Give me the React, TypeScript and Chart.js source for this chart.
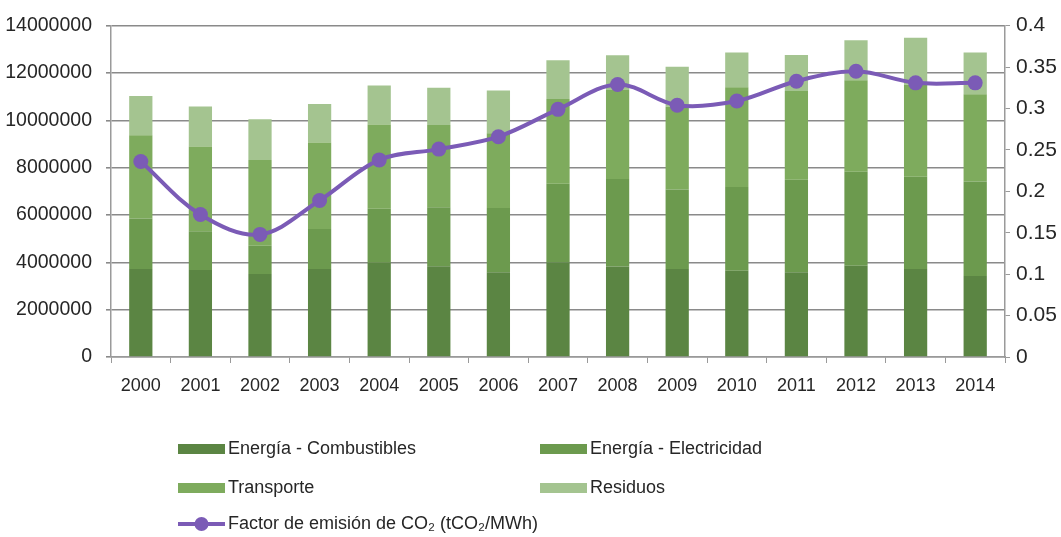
import React, { useEffect, useRef } from "react";
import { Chart, registerables } from "chart.js";

Chart.register(...registerables);

const years = ["2000", "2001", "2002", "2003", "2004", "2005", "2006", "2007", "2008", "2009", "2010", "2011", "2012", "2013", "2014"];
const combustibles = [3720000, 3680000, 3510000, 3720000, 3980000, 3830000, 3580000, 3990000, 3820000, 3720000, 3640000, 3580000, 3860000, 3720000, 3420000];
const electricidad = [2130000, 1630000, 1190000, 1690000, 2280000, 2500000, 2720000, 3330000, 3700000, 3360000, 3540000, 3910000, 3970000, 3900000, 4000000];
const transporte = [3520000, 3580000, 3630000, 3650000, 3570000, 3470000, 3150000, 3580000, 3780000, 3500000, 4220000, 3750000, 3870000, 3880000, 3680000];
const residuos = [1660000, 1700000, 1720000, 1630000, 1640000, 1580000, 1810000, 1640000, 1450000, 1690000, 1470000, 1520000, 1690000, 1990000, 1770000];
const factorEmision = [0.236, 0.172, 0.148, 0.189, 0.238, 0.251, 0.266, 0.299, 0.329, 0.304, 0.309, 0.333, 0.345, 0.331, 0.331];

const seriesLabels = ["Energía - Combustibles", "Energía - Electricidad", "Transporte", "Residuos", "Factor de emisión de CO₂ (tCO₂/MWh)"];
const seriesColors = ["#5b8543", "#6c9a4e", "#7eab5d", "#a4c490", "#7b5bb6"];

const FONT = "'Liberation Sans', Arial, sans-serif";
const TEXT = "#262626";

const legendPlugin = {
  id: "customLegend",
  afterDraw(chart: any) {
    const ctx = chart.ctx;
    const cols = [178, 540];
    const rows = [449, 488, 524];
    const pos = [
      [cols[0], rows[0]],
      [cols[1], rows[0]],
      [cols[0], rows[1]],
      [cols[1], rows[1]],
      [cols[0], rows[2]],
    ];
    ctx.save();
    ctx.font = `18px ${FONT}`;
    ctx.textBaseline = "middle";
    ctx.textAlign = "left";
    seriesLabels.forEach((label, i) => {
      const [x, y] = pos[i];
      if (i < 4) {
        ctx.fillStyle = seriesColors[i];
        ctx.fillRect(x, y - 5, 47, 10);
      } else {
        ctx.strokeStyle = seriesColors[i];
        ctx.lineWidth = 4;
        ctx.beginPath();
        ctx.moveTo(x, y);
        ctx.lineTo(x + 47, y);
        ctx.stroke();
        ctx.fillStyle = seriesColors[i];
        ctx.beginPath();
        ctx.arc(x + 23.5, y, 7, 0, Math.PI * 2);
        ctx.fill();
      }
      ctx.fillStyle = TEXT;
      ctx.fillText(label, x + 50, y);
    });
    ctx.restore();
  },
};

export default function App() {
  const canvasRef = useRef<HTMLCanvasElement | null>(null);

  useEffect(() => {
    if (!canvasRef.current) return;
    const barData = [combustibles, electricidad, transporte, residuos];
    const chart = new Chart(canvasRef.current, {
      type: "bar",
      data: {
        labels: years,
        datasets: [
          {
            type: "line" as const,
            label: seriesLabels[4],
            data: factorEmision,
            yAxisID: "y1",
            borderColor: seriesColors[4],
            backgroundColor: seriesColors[4],
            borderWidth: 4,
            pointRadius: 7.5,
            pointBackgroundColor: seriesColors[4],
            pointBorderWidth: 0,
            tension: 0.35,
            order: 0,
          },
          ...barData.map((d, i) => ({
            type: "bar" as const,
            label: seriesLabels[i],
            data: d,
            yAxisID: "y",
            backgroundColor: seriesColors[i],
            borderWidth: 0,
            categoryPercentage: 0.39,
            barPercentage: 1,
            stack: "s",
            order: 1,
          })),
        ],
      },
      options: {
        responsive: false,
        animation: false,
        layout: { padding: { top: 17, left: 0, right: 0, bottom: 0 } },
        plugins: { legend: { display: false }, tooltip: { enabled: false } },
        scales: {
          x: {
            stacked: true,
            grid: { drawOnChartArea: false, drawTicks: true, tickLength: 6, color: "#9a9a9a", offset: true },
            border: { color: "#9a9a9a", width: 1.5 },
            ticks: { font: { family: FONT, size: 18 }, color: TEXT, padding: 12, maxRotation: 0 },
            afterFit: (s: any) => {
              s.height = 180;
            },
          },
          y: {
            position: "left",
            stacked: true,
            min: 0,
            max: 14000000,
            ticks: {
              stepSize: 2000000,
              font: { family: FONT, size: 19.5 },
              color: TEXT,
              padding: 14,
              callback: (v: any) => String(v),
            },
            grid: { color: "#8a8a8a", lineWidth: 1.6, tickLength: 5 },
            border: { color: "#9a9a9a", width: 1.5 },
            afterFit: (s: any) => {
              s.width = 111;
            },
          },
          y1: {
            position: "right",
            min: 0,
            max: 0.4,
            ticks: {
              stepSize: 0.05,
              font: { family: FONT, size: 21 },
              color: TEXT,
              padding: 6,
              callback: (v: any) => String(Number(Number(v).toFixed(2))),
            },
            grid: { drawOnChartArea: false, color: "#9a9a9a", tickLength: 5 },
            border: { color: "#9a9a9a", width: 1.5 },
            afterFit: (s: any) => {
              s.width = 56;
            },
          },
        },
      },
      plugins: [legendPlugin],
    });
    return () => chart.destroy();
  }, []);

  return (
    <div style={{ position: "absolute", left: 0, top: 0, width: 1061, height: 537, background: "#fff" }}>
      <canvas ref={canvasRef} width={1061} height={537} />
    </div>
  );
}
